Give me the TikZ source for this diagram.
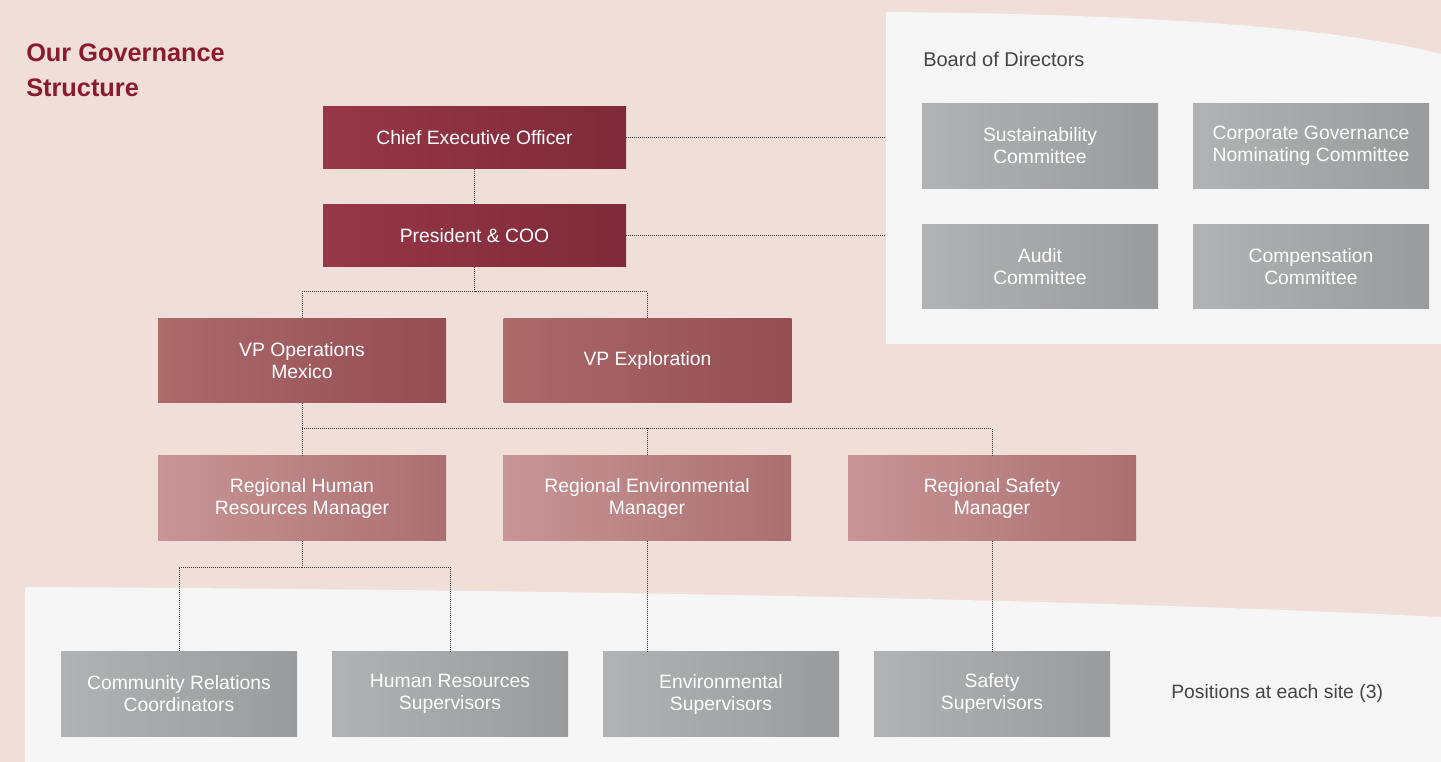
\documentclass[tikz,border=0pt]{standalone}
\usepackage{fontspec}
\setmainfont{Liberation Sans}
\usepackage{xcolor}

\definecolor{bgpink}{HTML}{F0DED9}
\definecolor{panelgrey}{HTML}{F6F6F6}
\definecolor{ceoL}{HTML}{973747}
\definecolor{ceoR}{HTML}{7E2A3A}
\definecolor{vpL}{HTML}{AC6A6B}
\definecolor{vpR}{HTML}{944D53}
\definecolor{regL}{HTML}{C89596}
\definecolor{regR}{HTML}{AC6F70}
\definecolor{grL}{HTML}{B1B2B4}
\definecolor{grR}{HTML}{9A9B9D}
\definecolor{titlered}{HTML}{8A1B2E}
\definecolor{textgrey}{HTML}{444444}
\definecolor{dotgrey}{HTML}{3A3A3A}

\tikzset{
  orgbox/.style={rectangle, inner sep=0pt, align=center, text=white,
    font=\fontsize{14.5}{16.5}\selectfont},
  ceobox/.style={orgbox, minimum width=227.25pt, minimum height=46.5pt,
    left color=ceoL, right color=ceoR},
  vpbox/.style={orgbox, minimum width=216pt, minimum height=63.5pt,
    left color=vpL, right color=vpR},
  regbox/.style={orgbox, minimum width=216pt, minimum height=63.5pt,
    left color=regL, right color=regR},
  greybox/.style={orgbox, minimum width=177pt, minimum height=63.5pt,
    left color=grL, right color=grR},
  link/.style={draw=dotgrey, line width=0.75pt, dash pattern=on 0.75pt off 0.75pt},
}

\begin{document}
\begin{tikzpicture}[x=0.75pt,y=0.75pt,yscale=-1,xscale=1]
                \useasboundingbox (0,0) rectangle (1441,762);
                % background and panels
                \fill[bgpink] (0,0) rectangle (1441,762);
                \fill[panelgrey] (886,12) .. controls (1150,14) and (1340,28) .. (1441,54) -- (1441,344) -- (886,344) -- cycle;
                \fill[panelgrey] (25,587) .. controls (600,590) and (1100,600) .. (1441,617) -- (1441,762) -- (25,762) -- cycle;
                % texts
                \node[anchor=north west, inner sep=0pt, align=left, text=titlered, font=\fontsize{19}{26.25}\selectfont\bfseries] (title) at (26,44) {Our Governance\\Structure};
                \node[anchor=base west, inner sep=0pt, text=textgrey, font=\fontsize{15}{18}\selectfont] (board) at (923,67) {Board of Directors};
                \node[anchor=base west, inner sep=0pt, text=textgrey, font=\fontsize{14.5}{16.5}\selectfont] (sites) at (1171,698) {Positions at each site (3)};
                % executive
                \node[ceobox] (ceo) at (474.5,137.5) {Chief Executive Officer};
                \node[ceobox] (pres) at (474.5,235.5) {President \& COO};
                \node[vpbox] (vpops) at (302,360.5) {VP Operations\\Mexico};
                \node[vpbox] (vpexp) at (647.5,360.5) {VP Exploration};
                \node[regbox] (hr) at (302,498) {Regional Human\\Resources Manager};
                \node[regbox] (env) at (647,498) {Regional Environmental\\Manager};
                \node[regbox] (safe) at (992,498) {Regional Safety\\Manager};
                % site positions
                \node[greybox] (comm) at (179,694) {Community Relations\\Coordinators};
                \node[greybox] (hrsup) at (450,694) {Human Resources\\Supervisors};
                \node[greybox] (envsup) at (721,694) {Environmental\\Supervisors};
                \node[greybox] (safesup) at (992,694) {Safety\\Supervisors};
                % board committees
                \node[greybox] (sust) at (1040,146) {Sustainability\\Committee};
                \node[greybox] (corp) at (1311,146) {Corporate Governance\\Nominating Committee};
                \node[greybox] (audit) at (1040,266.5) {Audit\\Committee};
                \node[greybox] (comp) at (1311,266.5) {Compensation\\Committee};
                % connectors
                \coordinate (bodedge) at (886,141);
                \coordinate (split1) at (474.5,292);
                \coordinate (split2) at (302,429);
                \coordinate (split3) at (302,567);
                \draw[link] (ceo) -- (ceo -| bodedge);
                \draw[link] (pres) -- (pres -| bodedge);
                \draw[link] (ceo) -- (pres);
                \draw[link] (pres.south) -- (split1);
                \draw[link] (vpops.north) |- (split1) -| (vpexp.north);
                \draw[link] (vpops) -- (hr);
                \draw[link] (split2) -| (env.north);
                \draw[link] (split2) -| (safe.north);
                \draw[link] (hr.south) -- (split3);
                \draw[link] (split3) -| (comm.north);
                \draw[link] (split3) -| (hrsup.north);
                \draw[link] (env.south) -- (env.south |- envsup.north);
                \draw[link] (safe) -- (safesup);
            \end{tikzpicture}
\end{document}
